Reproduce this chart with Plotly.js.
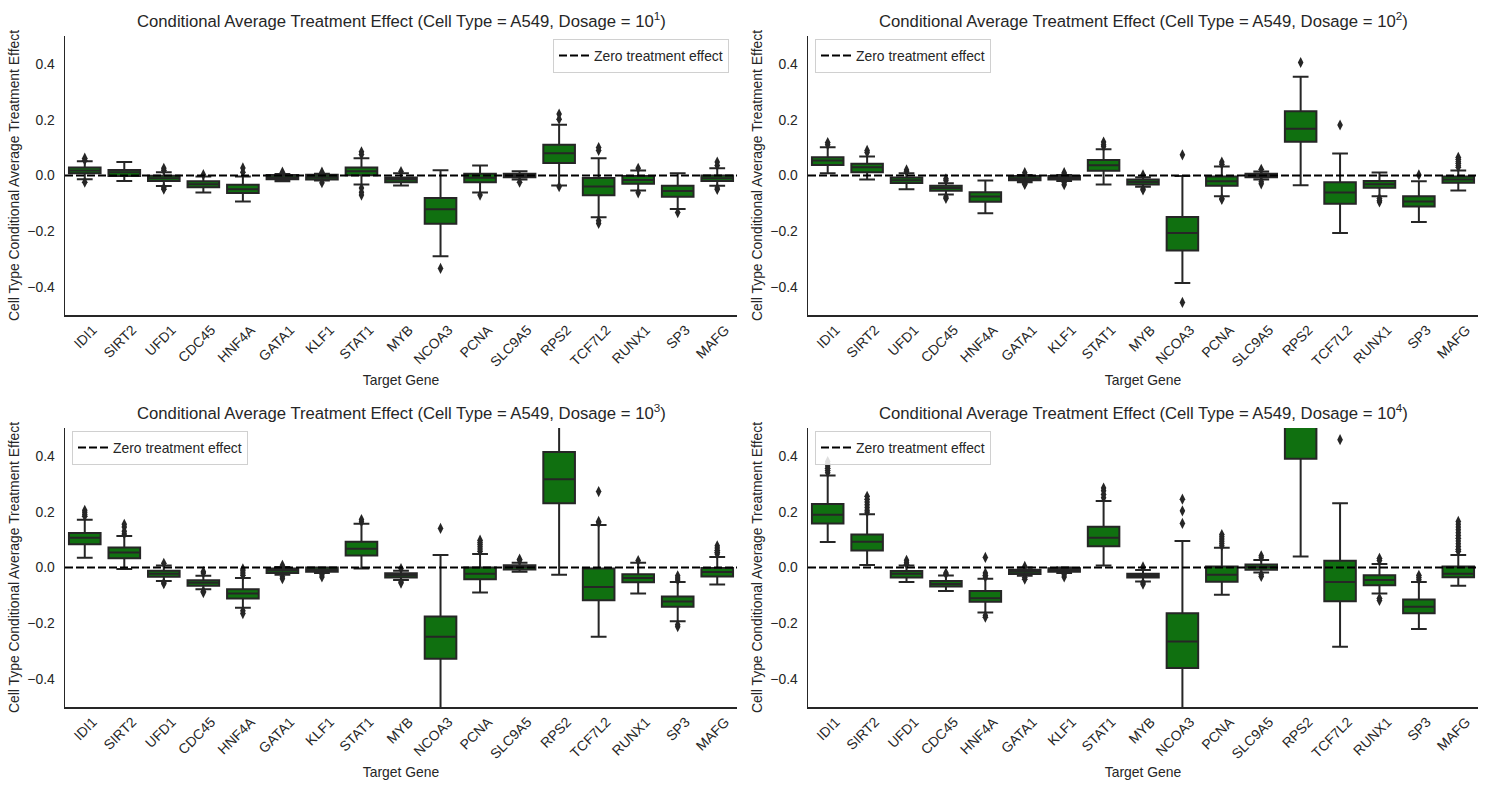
<!DOCTYPE html>
<html>
<head>
<meta charset="utf-8">
<script src="https://cdn.plot.ly/plotly-3.0.1.min.js"></script>
<style>html,body{margin:0;padding:0;background:#fff;}#chart{width:1487px;height:790px;}</style>
</head>
<body>
<div id="chart"></div>
<script>
// ---------------- DATA ----------------
const genes = ['IDI1','SIRT2','UFD1','CDC45','HNF4A','GATA1','KLF1','STAT1','MYB','NCOA3','PCNA','SLC9A5','RPS2','TCF7L2','RUNX1','SP3','MAFG'];
const dosageExp = [1, 2, 3, 4];
const yTicks = [-0.4, -0.2, 0.0, 0.2, 0.4];

// Dosage = 10^1
const q1_d1  = [0.008, -0.002, -0.020, -0.042, -0.063, -0.013, -0.014, 0.001, -0.024, -0.173, -0.024, -0.006, 0.045, -0.071, -0.030, -0.076, -0.020];
const med_d1 = [0.018, 0.012, -0.010, -0.031, -0.049, -0.006, -0.006, 0.015, -0.014, -0.121, -0.008, 0.000, 0.080, -0.039, -0.016, -0.056, -0.010];
const q3_d1  = [0.029, 0.020, -0.001, -0.021, -0.033, 0.002, 0.003, 0.029, -0.007, -0.081, 0.006, 0.006, 0.110, -0.009, -0.002, -0.037, 0.000];
const lo_d1  = [-0.013, -0.020, -0.038, -0.061, -0.093, -0.021, -0.018, -0.032, -0.036, -0.289, -0.061, -0.014, -0.036, -0.150, -0.054, -0.120, -0.037];
const hi_d1  = [0.051, 0.048, 0.012, -0.004, -0.004, 0.005, 0.006, 0.062, 0.008, 0.019, 0.036, 0.015, 0.182, 0.062, 0.018, 0.008, 0.026];
const out_d1 = [[0.062, 0.055, -0.024], [], [0.026, 0.019, -0.049, -0.044], [0.003], [0.027, 0.012],
  [0.012], [0.012, -0.026], [0.085, 0.075, -0.045, -0.060, -0.070], [0.014], [-0.333],
  [-0.070], [-0.024], [0.220, 0.202, -0.040], [0.100, 0.090, -0.162, -0.172], [0.026, -0.062],
  [-0.133], [0.048, 0.036, -0.045, -0.050]];

// Dosage = 10^2
const q1_d2  = [0.038, 0.012, -0.027, -0.055, -0.094, -0.017, -0.014, 0.017, -0.032, -0.269, -0.037, -0.006, 0.121, -0.101, -0.044, -0.111, -0.026];
const med_d2 = [0.054, 0.030, -0.017, -0.045, -0.075, -0.010, -0.007, 0.037, -0.023, -0.206, -0.021, 0.000, 0.168, -0.061, -0.031, -0.093, -0.014];
const q3_d2  = [0.065, 0.042, -0.007, -0.037, -0.060, -0.002, -0.002, 0.056, -0.014, -0.149, -0.004, 0.006, 0.230, -0.024, -0.020, -0.074, -0.004];
const lo_d2  = [0.008, -0.014, -0.049, -0.068, -0.135, -0.024, -0.020, -0.032, -0.040, -0.385, -0.074, -0.014, -0.035, -0.206, -0.074, -0.167, -0.054];
const hi_d2  = [0.101, 0.068, 0.008, -0.028, -0.018, 0.002, 0.002, 0.094, -0.006, -0.002, 0.032, 0.014, 0.354, 0.079, 0.011, -0.021, 0.018];
const out_d2 = [[0.118, 0.110], [0.090, 0.082], [0.020, 0.014], [-0.012, -0.018, -0.077, -0.082], [],
  [0.010, -0.028, -0.032], [0.010, 0.005, -0.025, -0.033], [0.120, 0.110, 0.104], [0.002, -0.048, -0.052], [0.074, -0.455],
  [0.048, 0.040, -0.082, -0.086], [0.022, -0.022, -0.030], [0.405], [0.181], [-0.082, -0.090, -0.095],
  [0.002], [0.065, 0.058, 0.050, 0.044, 0.036, 0.030]];

// Dosage = 10^3
const q1_d3  = [0.083, 0.033, -0.033, -0.065, -0.111, -0.020, -0.015, 0.043, -0.036, -0.327, -0.042, -0.007, 0.230, -0.117, -0.053, -0.141, -0.032];
const med_d3 = [0.107, 0.054, -0.022, -0.055, -0.093, -0.011, -0.008, 0.067, -0.028, -0.248, -0.022, 0.002, 0.316, -0.070, -0.038, -0.122, -0.016];
const q3_d3  = [0.124, 0.072, -0.012, -0.046, -0.078, -0.004, 0.000, 0.092, -0.021, -0.176, 0.000, 0.008, 0.414, -0.004, -0.024, -0.104, -0.002];
const lo_d3  = [0.035, -0.005, -0.048, -0.078, -0.144, -0.026, -0.020, -0.004, -0.045, -0.550, -0.090, -0.015, -0.026, -0.248, -0.093, -0.193, -0.061];
const hi_d3  = [0.171, 0.113, 0.007, -0.030, -0.038, 0.002, 0.000, 0.157, -0.012, 0.045, 0.048, 0.017, 0.600, 0.152, 0.017, -0.052, 0.038];
const out_d3 = [[0.205, 0.198, 0.190, 0.184], [0.155, 0.145, 0.130, 0.120], [0.015, -0.055, -0.058], [-0.015, -0.020, -0.085, -0.090], [-0.005, -0.012, -0.020, -0.028, -0.155, -0.165],
  [0.008, -0.033, -0.040], [-0.026, -0.034], [0.172, 0.164], [-0.004, -0.052, -0.056], [0.140],
  [0.098, 0.090, 0.082, 0.074, 0.066, 0.058], [0.030, 0.026], [], [0.272, 0.165, 0.160], [0.025],
  [-0.030, -0.038, -0.045, -0.205, -0.212], [0.078, 0.070, 0.062, 0.055, 0.048]];

// Dosage = 10^4
const q1_d4  = [0.158, 0.061, -0.036, -0.068, -0.123, -0.023, -0.015, 0.076, -0.036, -0.360, -0.051, -0.008, 0.390, -0.121, -0.064, -0.164, -0.035];
const med_d4 = [0.189, 0.092, -0.022, -0.059, -0.110, -0.015, -0.009, 0.107, -0.029, -0.265, -0.026, 0.002, 0.560, -0.052, -0.045, -0.141, -0.022];
const q3_d4  = [0.228, 0.118, -0.0125, -0.048, -0.084, -0.008, -0.003, 0.146, -0.022, -0.164, 0.004, 0.011, 0.730, 0.024, -0.028, -0.115, 0.004];
const lo_d4  = [0.091, 0.009, -0.052, -0.084, -0.161, -0.030, -0.020, 0.007, -0.050, -0.650, -0.098, -0.018, 0.039, -0.284, -0.093, -0.220, -0.065];
const hi_d4  = [0.330, 0.191, 0.007, -0.029, -0.040, 0.000, 0.000, 0.238, -0.009, 0.095, 0.071, 0.027, 1.000, 0.230, 0.0125, -0.052, 0.045];
const out_d4 = [[0.380, 0.372, 0.364, 0.356, 0.348, 0.340], [0.255, 0.245, 0.235, 0.225, 0.215, 0.205, 0.198], [0.026, 0.018, 0.012], [-0.020, -0.024], [0.036, -0.020, -0.028, -0.034, -0.172, -0.178],
  [0.004, -0.036, -0.042], [-0.026, -0.034], [0.285, 0.275, 0.262, 0.250], [0.002, -0.055, -0.060], [0.245, 0.203, 0.158],
  [0.118, 0.110, 0.102, 0.094, 0.086, 0.078], [0.042, 0.035, -0.025, -0.032], [], [0.458], [0.033, 0.025, -0.110, -0.118],
  [-0.028, -0.036, -0.044], [0.165, 0.155, 0.145, 0.135, 0.125, 0.115, 0.105, 0.095, 0.085, 0.075, 0.065, 0.058]];

// ---------------- BUILD ----------------
const FONT = 'Liberation Sans, Arial, sans-serif';
const DARK = '#262626';
const FILL = 'rgb(16,112,16)';
const idx = genes.map((g, i) => i);

const panels = [
  {q1: q1_d1, med: med_d1, q3: q3_d1, lo: lo_d1, hi: hi_d1, out: out_d1},
  {q1: q1_d2, med: med_d2, q3: q3_d2, lo: lo_d2, hi: hi_d2, out: out_d2},
  {q1: q1_d3, med: med_d3, q3: q3_d3, lo: lo_d3, hi: hi_d3, out: out_d3},
  {q1: q1_d4, med: med_d4, q3: q3_d4, lo: lo_d4, hi: hi_d4, out: out_d4}
];

const xDomains = [[65/1487, 737/1487], [808/1487, 1478/1487]];
const yDomains = [[1 - 315/790, 1 - 36/790], [1 - 707/790, 1 - 428/790]];

const traces = [];
const layout = {
  width: 1487, height: 790,
  margin: {l: 0, r: 0, t: 0, b: 0},
  paper_bgcolor: '#ffffff', plot_bgcolor: '#ffffff',
  font: {family: FONT, color: DARK, size: 13.9},
  showlegend: true,
  annotations: []
};

panels.forEach((p, k) => {
  const n = k + 1;
  const xa = n === 1 ? 'x' : 'x' + n;
  const ya = n === 1 ? 'y' : 'y' + n;
  const col = k % 2, row = Math.floor(k / 2);
  const legName = n === 1 ? 'legend' : 'legend' + n;

  traces.push({
    type: 'box', xaxis: xa, yaxis: ya,
    x: idx, q1: p.q1, median: p.med, q3: p.q3, lowerfence: p.lo, upperfence: p.hi,
    width: 0.8, whiskerwidth: 0.5, boxpoints: false,
    fillcolor: FILL, line: {color: DARK, width: 2},
    showlegend: false, hoverinfo: 'skip'
  });

  const ox = [], oy = [];
  p.out.forEach((vals, i) => vals.forEach(v => { ox.push(i); oy.push(v); }));
  traces.push({
    type: 'scatter', mode: 'markers', xaxis: xa, yaxis: ya,
    x: ox, y: oy,
    marker: {symbol: 'diamond-tall', size: 8, color: DARK, line: {color: DARK, width: 0}},
    showlegend: false, hoverinfo: 'skip'
  });

  traces.push({
    type: 'scatter', mode: 'lines', xaxis: xa, yaxis: ya,
    x: [-0.5, genes.length - 0.5], y: [0, 0],
    line: {color: '#000000', width: 2, dash: '8px,3px'},
    name: 'Zero treatment effect', legend: legName, hoverinfo: 'skip'
  });

  const xKey = n === 1 ? 'xaxis' : 'xaxis' + n;
  const yKey = n === 1 ? 'yaxis' : 'yaxis' + n;
  layout[xKey] = {
    domain: xDomains[col], anchor: ya,
    range: [-0.5, genes.length - 0.5],
    tickmode: 'array', tickvals: idx, ticktext: genes, tickangle: -45,
    ticklabelshift: 8,
    showline: true, linecolor: DARK, linewidth: 1.5, mirror: false,
    ticks: '', showgrid: false, zeroline: false,
    tickfont: {family: FONT, size: 13.9, color: DARK},
    title: {text: 'Target Gene', font: {family: FONT, size: 13.9, color: DARK}, standoff: 6},
    fixedrange: true
  };
  layout[yKey] = {
    domain: yDomains[row], anchor: xa,
    range: [-0.5, 0.5],
    tickmode: 'array', tickvals: yTicks, tickformat: '.1f',
    showline: true, linecolor: DARK, linewidth: 1.5, mirror: false,
    ticks: '', showgrid: false, zeroline: false,
    ticklabelstandoff: 6,
    tickfont: {family: FONT, size: 13.9, color: DARK},
    title: {text: 'Cell Type Conditional Average Treatment Effect', font: {family: FONT, size: 13.9, color: DARK}, standoff: 4},
    fixedrange: true
  };

  const leg = {
    bgcolor: 'rgba(255,255,255,0.85)', bordercolor: '#d0d0d0', borderwidth: 1,
    font: {family: FONT, size: 13.9, color: DARK},
    yanchor: 'top', y: 1 - (row === 0 ? 39 : 431) / 790,
    itemwidth: 30, tracegroupgap: 0
  };
  if (k === 0) { leg.xanchor = 'right'; leg.x = 729 / 1487; }
  else { leg.xanchor = 'left'; leg.x = (col === 0 ? 72 : 815) / 1487; }
  layout[legName] = leg;

  layout.annotations.push({
    xref: 'paper', yref: 'paper',
    x: (xDomains[col][0] + xDomains[col][1]) / 2,
    y: 1 - (row === 0 ? 20 : 412) / 790,
    xanchor: 'center', yanchor: 'middle', showarrow: false,
    text: 'Conditional Average Treatment Effect (Cell Type = A549, Dosage = 10<sup>' + dosageExp[k] + '</sup>)',
    font: {family: FONT, size: 16.7, color: DARK}
  });
});

Plotly.newPlot('chart', traces, layout, {staticPlot: true, displayModeBar: false});
</script>
</body>
</html>
